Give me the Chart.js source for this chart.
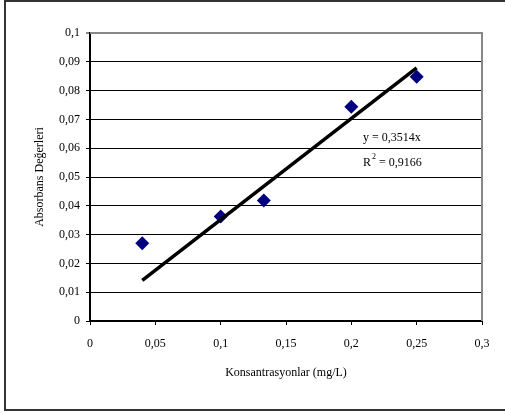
<!DOCTYPE html>
<html>
<head>
<meta charset="utf-8">
<script src="https://cdn.jsdelivr.net/npm/chart.js@4"></script>
<style>
body { margin: 0; background: #fff; }
canvas { display: block; }
</style>
</head>
<body>
<canvas id="kalibrasyon" width="505" height="414"></canvas>
<script>
// ölçüm verileri
const konsantrasyonlar = [0.04, 0.1, 0.133, 0.2, 0.25];
const absorbanslar = [0.027, 0.0363, 0.0418, 0.0744, 0.0848];

// doğrusal eğilim çizgisinin uç noktaları (y = 0,3514x)
const trendX = [0.04, 0.25];
const trendY = [0.0141, 0.0879];

// eksen işaretleri
const xTicks = [0, 0.05, 0.1, 0.15, 0.2, 0.25, 0.3];
const yTicks = [0, 0.01, 0.02, 0.03, 0.04, 0.05, 0.06, 0.07, 0.08, 0.09, 0.1];

const denklem = 'y = 0,3514x';
const r2Degeri = '0,9166';

const serif = '"Liberation Serif", "Times New Roman", serif';
Chart.defaults.font.family = serif;
Chart.defaults.font.size = 12;
Chart.defaults.color = '#000';

// virgüllü ondalık gösterim
function virgul(v) {
    return String(+v.toFixed(3)).replace('.', ',');
}

// dış çerçeve, çizim alanının gri kenarı ve denklem yazısı
const cerceve = {
    id: 'cerceve',
    beforeDraw(chart) {
        const ctx = chart.ctx;
        ctx.save();
        ctx.fillStyle = '#fff';
        ctx.fillRect(0, 0, chart.width, chart.height);
        ctx.strokeStyle = '#333';
        ctx.lineWidth = 2;
        ctx.beginPath();
        ctx.moveTo(chart.width + 2, 1);
        ctx.lineTo(5, 1);
        ctx.lineTo(5, 410);
        ctx.lineTo(chart.width + 2, 410);
        ctx.stroke();
        ctx.restore();
    },
    beforeDatasetsDraw(chart) {
        const a = chart.chartArea;
        const ctx = chart.ctx;
        ctx.save();
        ctx.strokeStyle = '#888';
        ctx.lineWidth = 2;
        ctx.beginPath();
        ctx.moveTo(a.left, a.top);
        ctx.lineTo(a.right, a.top);
        ctx.lineTo(a.right, a.bottom);
        ctx.stroke();
        ctx.restore();
    },
    afterDraw(chart) {
        const ctx = chart.ctx;
        const a = chart.chartArea;
        const x = a.left + 273;
        ctx.save();
        ctx.fillStyle = '#000';
        ctx.textBaseline = 'middle';
        ctx.font = '12px ' + serif;
        ctx.fillText(denklem, x, 138);
        ctx.fillText('R', x, 163);
        const rw = ctx.measureText('R').width;
        ctx.font = '8px ' + serif;
        ctx.fillText('2', x + rw + 1, 157);
        ctx.font = '12px ' + serif;
        ctx.fillText(' = ' + r2Degeri, x + rw + 5, 163);
        ctx.restore();
    }
};

new Chart(document.getElementById('kalibrasyon'), {
    type: 'scatter',
    data: {
        datasets: [{
            type: 'line',
            label: 'Doğrusal',
            data: trendX.map((x, i) => ({ x: x, y: trendY[i] })),
            borderColor: '#000',
            borderWidth: 3.5,
            pointRadius: 0,
            fill: false
        }, {
            label: 'Absorbans',
            data: konsantrasyonlar.map((x, i) => ({ x: x, y: absorbanslar[i] })),
            pointStyle: 'rectRot',
            pointRadius: 7,
            backgroundColor: '#000080',
            borderColor: '#000080',
            borderWidth: 0
        }]
    },
    options: {
        responsive: false,
        animation: false,
        layout: { padding: { left: 29, right: 23, top: 33, bottom: 30 } },
        plugins: {
            legend: { display: false },
            tooltip: { enabled: false }
        },
        scales: {
            x: {
                type: 'linear',
                position: 'bottom',
                min: 0,
                max: 0.3,
                afterBuildTicks: s => { s.ticks = xTicks.map(v => ({ value: v })); },
                afterFit: s => { s.height = 63; },
                ticks: { padding: 12, callback: v => virgul(v), maxRotation: 0 },
                grid: { drawOnChartArea: false, drawTicks: true, tickLength: 4, color: '#000' },
                border: { color: '#000', width: 2 },
                title: { display: true, text: 'Konsantrasyonlar (mg/L)', font: { size: 12 } }
            },
            y: {
                min: 0,
                max: 0.1,
                afterBuildTicks: s => { s.ticks = yTicks.map(v => ({ value: v })); },
                afterFit: s => { s.width = 61; },
                ticks: { padding: 6, callback: v => virgul(v) },
                grid: {
                    drawTicks: true,
                    tickLength: 4,
                    color: c => (c.tick && c.tick.value === 0.1 ? '#888' : '#000'),
                    lineWidth: c => (c.tick && c.tick.value === 0.1 ? 2 : 1)
                },
                border: { color: '#000', width: 2 },
                title: { display: true, text: 'Absorbans Değerleri', font: { size: 12 } }
            }
        }
    },
    plugins: [cerceve]
});
</script>
</body>
</html>
